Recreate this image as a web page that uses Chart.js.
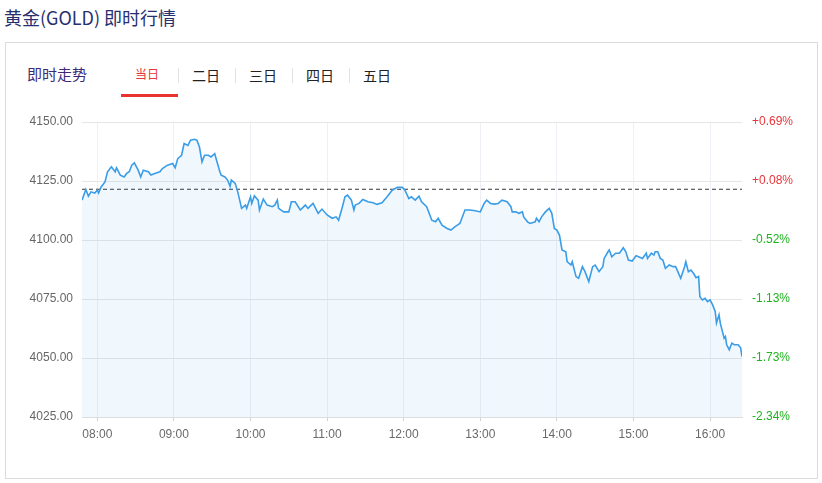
<!DOCTYPE html>
<html>
<head>
<meta charset="utf-8">
<title>黄金(GOLD) 即时行情</title>
<script src="https://cdn.jsdelivr.net/npm/chart.js@4.4.1/dist/chart.umd.min.js"></script>
<style>
  html, body { margin: 0; padding: 0; background: #fff; }
  body {
    width: 822px; height: 483px; position: relative; overflow: hidden;
    font-family: "Noto Sans CJK SC", "Noto Sans", sans-serif;
  }
  .title { position: absolute; left: 4px; top: 4px; font-size: 18px; line-height: 26px; color: #27306e; }
  .panel {
    position: absolute; left: 5px; top: 42px; width: 813px; height: 437px;
    border: 1px solid #dcdcdc; box-sizing: border-box;
  }
  .label { position: absolute; white-space: nowrap; }
  .trend { left: 27px; top: 64px; font-size: 15px; line-height: 20px; color: #3c2a78; }
  .tab { top: 66px; font-size: 14px; line-height: 18px; color: #222; }
  .tab.active { font-size: 12px; top: 66px; line-height: 16px; color: #e8363a; }
  .sep { position: absolute; top: 68px; width: 1px; height: 15px; background: #e2e2e2; }
  .underline { position: absolute; left: 121px; top: 94px; width: 57px; height: 3px; background: #e8332f; }
  canvas { position: absolute; left: 0; top: 0; }
</style>
</head>
<body>
<div class="title">黄金(GOLD) 即时行情</div>
<div class="panel"></div>
<div class="label trend">即时走势</div>
<div class="label tab active" style="left:135px">当日</div>
<div class="sep" style="left:178px"></div>
<div class="label tab" style="left:192px">二日</div>
<div class="sep" style="left:235px"></div>
<div class="label tab" style="left:249px">三日</div>
<div class="sep" style="left:292px"></div>
<div class="label tab" style="left:306px">四日</div>
<div class="sep" style="left:349px"></div>
<div class="label tab" style="left:363px">五日</div>
<div class="underline"></div>
<canvas id="goldChart" width="822" height="483"></canvas>

<script>
// ---- data ----
const times = [
  "07:48","07:51","07:53","07:55","07:58","08:00","08:01","08:03","08:06","08:08",
  "08:11","08:14","08:15","08:18","08:21","08:23","08:25","08:27","08:29","08:32",
  "08:34","08:36","08:40","08:42","08:45","08:49","08:51","08:55","08:59","09:01",
  "09:03","09:06","09:08","09:11","09:13","09:16","09:18","09:20","09:22","09:24",
  "09:27","09:29","09:32","09:33","09:36","09:37","09:40","09:42","09:44","09:45",
  "09:48","09:50","09:53","09:56","09:57","10:00","10:01","10:03","10:06","10:07",
  "10:10","10:13","10:17","10:19","10:21","10:22","10:26","10:30","10:32","10:35",
  "10:39","10:43","10:45","10:49","10:53","10:56","11:00","11:04","11:07","11:09",
  "11:12","11:14","11:16","11:19","11:21","11:22","11:25","11:28","11:32","11:36",
  "11:39","11:43","11:47","11:51","11:55","11:59","12:01","12:04","12:06","12:09",
  "12:12","12:14","12:18","12:22","12:25","12:27","12:30","12:34","12:37","12:40",
  "12:44","12:48","12:52","12:56","13:00","13:03","13:05","13:08","13:11","13:14",
  "13:17","13:21","13:24","13:25","13:28","13:30","13:33","13:34","13:37","13:39",
  "13:43","13:44","13:46","13:48","13:51","13:54","13:56","13:58","14:00","14:02",
  "14:04","14:07","14:08","14:11","14:12","14:15","14:17","14:20","14:22","14:25",
  "14:28","14:30","14:33","14:36","14:37","14:40","14:41","14:43","14:46","14:49",
  "14:52","14:54","14:56","14:59","15:02","15:04","15:07","15:10","15:11","15:14",
  "15:16","15:17","15:19","15:21","15:23","15:25","15:28","15:31","15:33","15:37",
  "15:40","15:41","15:43","15:45","15:47","15:49","15:51","15:52","15:54","15:56",
  "15:58","16:00","16:02","16:04","16:05","16:07","16:08","16:11","16:12","16:13",
  "16:15","16:17","16:19","16:22","16:24","16:25"
];

const prices = [
  4116.9,4121.4,4118.6,4120.4,4119.9,4121.1,4119.9,4122.5,4124.6,4128.9,
  4131.0,4128.9,4130.6,4127.5,4126.7,4128.2,4128.9,4131.7,4132.7,4129.6,
  4126.7,4129.6,4128.9,4127.5,4128.2,4128.9,4130.3,4131.7,4132.4,4130.6,
  4134.5,4135.9,4140.9,4140.1,4142.3,4142.7,4142.3,4139.4,4133.1,4135.9,
  4135.9,4135.2,4136.6,4134.5,4128.9,4127.5,4126.7,4125.4,4122.8,4125.4,
  4124.0,4120.4,4113.4,4114.8,4113.4,4118.3,4115.5,4118.7,4116.9,4112.7,
  4117.3,4114.8,4114.1,4114.8,4116.9,4113.4,4111.9,4111.9,4116.2,4116.2,
  4112.7,4114.8,4113.4,4115.5,4111.3,4113.1,4110.6,4109.2,4109.8,4108.4,
  4114.1,4118.3,4119.0,4116.9,4112.7,4114.8,4115.5,4117.2,4116.2,4115.8,
  4115.1,4115.8,4118.3,4121.1,4122.3,4122.3,4121.1,4117.6,4118.3,4116.9,
  4118.6,4116.2,4114.1,4108.4,4107.7,4109.2,4106.3,4104.9,4104.2,4105.6,
  4107.0,4112.7,4112.7,4112.4,4111.9,4115.5,4116.9,4115.5,4115.2,4115.5,
  4116.9,4116.2,4114.1,4111.9,4111.9,4111.3,4111.9,4109.8,4107.7,4107.0,
  4107.7,4109.2,4107.7,4109.8,4111.9,4113.4,4111.3,4104.9,4104.2,4102.1,
  4095.8,4095.0,4090.8,4089.4,4090.8,4084.5,4083.8,4088.7,4086.6,4082.4,
  4088.7,4089.4,4086.6,4088.7,4092.2,4095.0,4095.8,4092.9,4094.4,4094.4,
  4096.7,4095.0,4091.5,4091.1,4093.3,4092.9,4092.2,4094.4,4092.2,4094.4,
  4093.6,4095.0,4095.0,4092.2,4091.5,4088.0,4089.4,4088.7,4088.7,4083.8,
  4088.7,4090.8,4086.6,4087.3,4085.9,4084.0,4084.5,4076.0,4074.6,4075.3,
  4073.9,4074.6,4072.5,4069.7,4064.8,4068.3,4064.8,4058.4,4059.1,4055.6,
  4053.5,4056.3,4055.6,4055.6,4054.2,4050.6
];

const prevClose = 4121.5;
const sessionStart = "07:48";
const sessionEnd = "16:25";
const hourLabels = ["08:00","09:00","10:00","11:00","12:00","13:00","14:00","15:00","16:00"];
const priceTicks = [4025, 4050, 4075, 4100, 4125, 4150];

const RED = '#e8363a';
const GREEN = '#1fb31f';
const AXIS_FONT = { family: '"Liberation Sans", Arial, sans-serif', size: 12 };

function toMinutes(hhmm) {
    const parts = hhmm.split(':');
    return Number(parts[0]) * 60 + Number(parts[1]);
}

function toHHMM(m) {
    const h = Math.floor(m / 60), mm = m % 60;
    return String(h).padStart(2, '0') + ':' + String(mm).padStart(2, '0');
}

const points = times.map((t, i) => ({ x: toMinutes(t), y: prices[i] }));
const xMin = toMinutes(sessionStart);
const xMax = toMinutes(sessionEnd);

const ctx = document.getElementById('goldChart').getContext('2d');
new Chart(ctx, {
    type: 'line',
    data: {
        datasets: [
            {
                data: points,
                borderColor: '#3a9de8',
                backgroundColor: 'rgba(66, 165, 245, 0.08)',
                borderWidth: 1.6,
                pointRadius: 0,
                tension: 0,
                fill: 'start',
                yAxisID: 'y'
            },
            {
                // previous close
                data: [{ x: xMin, y: prevClose }, { x: xMax, y: prevClose }],
                borderColor: '#333',
                borderWidth: 1,
                borderDash: [4, 3],
                pointRadius: 0,
                fill: false,
                yAxisID: 'y'
            }
        ]
    },
    options: {
        responsive: false,
        animation: false,
        devicePixelRatio: 1,
        layout: { padding: { top: 122, bottom: 0, left: 0, right: 0 } },
        plugins: {
            legend: { display: false },
            tooltip: { enabled: false }
        },
        scales: {
            x: {
                type: 'linear',
                min: xMin,
                max: xMax,
                afterBuildTicks: (scale) => {
                    scale.ticks = hourLabels.map(l => ({ value: toMinutes(l) }));
                },
                afterFit: (scale) => { scale.height = 66; },
                ticks: {
                    color: '#6a6a6a',
                    font: AXIS_FONT,
                    padding: 6,
                    maxRotation: 0,
                    autoSkip: false,
                    callback: (v) => toHHMM(v)
                },
                grid: {
                    color: '#edf0f4',
                    tickColor: '#d0d0d0',
                    tickLength: 4,
                    drawTicks: true
                },
                border: { display: true, color: '#dcdcdc' }
            },
            y: {
                position: 'left',
                min: priceTicks[0],
                max: priceTicks[priceTicks.length - 1],
                afterBuildTicks: (scale) => {
                    scale.ticks = priceTicks.map(v => ({ value: v }));
                },
                afterFit: (scale) => { scale.width = 82; },
                ticks: {
                    color: '#666',
                    font: AXIS_FONT,
                    padding: 9,
                    callback: (v) => Number(v).toFixed(2)
                },
                grid: { color: '#e6e6e6', drawTicks: false },
                border: { display: false }
            },
            y1: {
                position: 'right',
                min: priceTicks[0],
                max: priceTicks[priceTicks.length - 1],
                afterBuildTicks: (scale) => {
                    scale.ticks = priceTicks.map(v => ({ value: v }));
                },
                afterFit: (scale) => { scale.width = 80; },
                ticks: {
                    font: AXIS_FONT,
                    padding: 10,
                    color: (c) => (c.tick && c.tick.value >= prevClose) ? RED : GREEN,
                    callback: (v) => {
                        const pct = (v - prevClose) / prevClose * 100;
                        return (pct >= 0 ? '+' : '') + pct.toFixed(2) + '%';
                    }
                },
                grid: { display: false, drawTicks: false },
                border: { display: false }
            }
        }
    }
});
</script>
</body>
</html>
